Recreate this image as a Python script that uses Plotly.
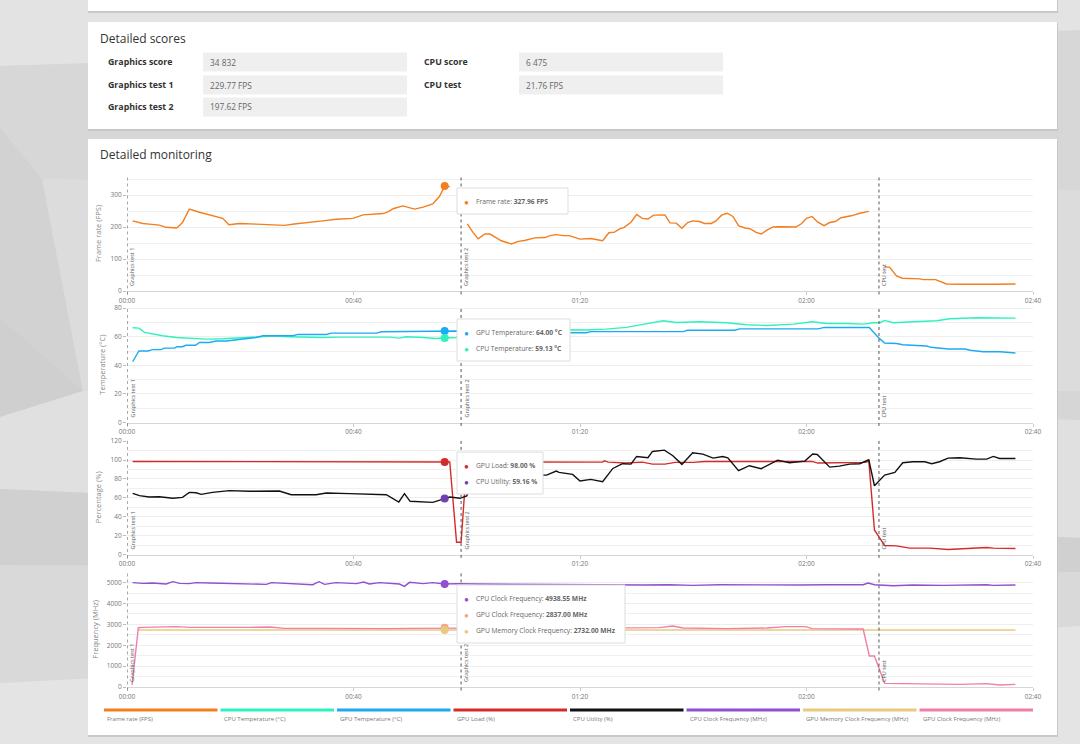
import plotly.graph_objects as go

W, H = 1080, 744
FONT = "Open Sans"

# ---- Detailed scores ----
score_rows_left = ["Graphics score", "Graphics test 1", "Graphics test 2"]
score_vals_left = ["34 832", "229.77 FPS", "197.62 FPS"]
score_rows_right = ["CPU score", "CPU test"]
score_vals_right = ["6 475", "21.76 FPS"]

# ---- Detailed monitoring (time in seconds) ----
test_names = ["Graphics test 1", "Graphics test 2", "CPU test"]
test_starts = [0, 59, 132.8]
time_ticks = [0, 40, 80, 120, 160]
hover_t = 56.1

fps_t = [1.0, 2.8, 3.9, 5.7, 6.9, 8.8, 9.8, 11.0, 12.8, 14.6, 16.3, 16.9, 18.0, 19.9, 22.8, 25.8, 27.8,
         29.9, 31.6, 34.6, 36.9, 39.9, 41.7, 43.4, 45.2, 46.1, 47.0, 48.7, 50.8, 52.3, 54.0, 55.2, 56.1,
         57.0, 58.5,
         60.1, 61.1, 62.0, 63.2, 64.1, 64.9, 66.1, 67.9, 69.1, 70.2, 72.0, 73.8, 74.7, 75.8, 77.0, 78.1,
         80.0, 81.9, 84.0, 85.1, 86.1, 87.0, 87.8, 89.0, 90.0, 91.0, 92.0, 93.0, 95.0, 95.9, 97.0, 98.0,
         99.0, 99.9, 101.1, 102.0, 103.2, 104.0, 105.0, 106.0, 107.0, 108.0, 109.1, 110.1, 111.1, 112.0,
         113.0, 114.1, 115.2, 118.1, 119.1, 120.0, 121.0, 122.0, 123.1, 124.1, 125.1, 126.1, 127.9, 129.4,
         131.0, 132.5,
         133.8, 134.7, 135.9, 136.9, 140.0, 140.6, 142.8, 144.7, 147.1, 150.0, 153.0, 156.9]
fps = [219, 211, 209, 206, 199, 197, 214, 256, 246, 238, 232, 227, 207, 211, 209, 207, 205,
       210, 214, 219, 224, 227, 238, 241, 242, 247, 257, 266, 256, 262, 272, 296, 327.96,
       326, None,
       210, 183, 163, 178, 178, 170, 157, 147, 155, 158, 166, 167, 173, 176, 173, 173,
       162, 164, 157, 182, 184, 194, 199, 215, 239, 227, 225, 237, 238, 213, 212, 196,
       214, 219, 217, 211, 211, 219, 237, 243, 233, 204, 197, 194, 183, 178,
       190, 200, 201, 200, 210, 227, 233, 215, 204, 214, 217, 229, 235, 243,
       249, None,
       76, 74, 47, 40, 38, 35.5, 35.5, 22, 21, 20, 21, 22]

gpu_temp_t = [1.0, 2.1, 3.7, 4.5, 6.0, 6.6, 8.4, 8.8, 9.8, 10.4, 12.1, 12.8, 14.6, 15.7, 17.5, 19.3,
              21.0, 22.8, 24.0, 29.3, 30.2, 35.2, 36.1, 44.0, 45.0, 54.6, 56.1, 58.2, 60.0, 76.3,
              81.1, 81.9, 98.2, 99.0, 107.3, 108.2, 122.0, 123.2, 131.1, 132.8, 133.8, 135.9, 137.0,
              141.2, 142.0, 145.0, 148.0, 148.9, 151.2, 154.2, 156.9]
gpu_temp = [42.5, 50, 50, 51, 51, 52, 52, 53, 53, 54, 54, 56, 56, 57, 57, 58,
            59, 59.5, 60.7, 60.7, 61.6, 61.6, 62.5, 62.5, 63.5, 63.5, 64.0, 64, 63, 62.8,
            62.8, 63.6, 63.6, 64.5, 64.5, 65.5, 65.5, 66.5, 66.5, 59, 55.6, 55.3, 54.4,
            53.5, 52.6, 51.4, 51.4, 50.5, 49.5, 49.5, 48.6]

cpu_temp_t = [1.0, 2.1, 3.1, 4.5, 6.3, 8.7, 11.0, 14.0, 16.9, 19.9, 22.8, 25.8, 28.7, 31.6, 34.6,
              37.5, 40.5, 43.4, 46.4, 48.1, 49.3, 52.3, 54.6, 56.1, 58.2, 60.0, 68.0, 76.3, 81.1,
              84.6, 88.2, 91.1, 94.7, 97.0, 101.2, 105.9, 109.4, 113.0, 117.7, 121.0, 123.6, 127.2,
              130.1, 131.8, 133.0, 133.8, 135.3, 138.8, 143.0, 145.3, 150.0, 156.9]
cpu_temp = [66.3, 66, 63, 61.8, 60.7, 59.5, 58.8, 58.3, 58.6, 59.3, 60, 60.4, 60, 59.5, 59.5,
            59.7, 59.7, 59.5, 59.7, 59, 60, 59.5, 58.8, 59.13, 59.5, 63.5, 64.5, 64.9, 64.7,
            65.3, 66.5, 68.6, 71.2, 70, 70.5, 69.8, 68.4, 67.9, 68.8, 70.5, 69.3, 69.3,
            68.8, 69.8, 69.8, 71.4, 69.8, 70.5, 71.2, 72.6, 73.3, 73]

gpu_load_t = [1.0, 46.5, 47.0, 56.1, 57.0, 58.2, 59.0, 60.0, 84.0, 84.3, 85.0, 88.0, 91.0, 92.8, 95.0,
              96.8, 100.0, 102.0, 121.0, 122.0, 130.5, 131.0, 132.0, 133.8, 135.9, 138.2, 141.8,
              145.0, 147.1, 151.8, 153.0, 156.9]
gpu_load = [98.5, 98.5, 98, 98.0, 98, 13, 13, 98, 97.8, 99.2, 97.8, 96.8, 97.8, 95.7, 95.7,
            97.5, 97.5, 98.5, 98.5, 96.8, 97.5, 99, 26, 9.5, 9.1, 6.7, 6.7,
            5.3, 6, 7.4, 6.7, 6.3]

cpu_util_t = [1.0, 2.2, 3.9, 5.7, 8.1, 9.8, 11.0, 12.2, 13.1, 15.1, 18.1, 21.6, 26.9, 29.0, 33.4,
              35.2, 39.3, 43.4, 45.8, 48.0, 49.0, 50.0, 54.0, 56.1, 57.0, 58.8, 60.0, 61.0, 63.0,
              66.0, 70.0, 73.0, 74.1, 75.8, 76.3, 78.7, 80.0, 81.9, 84.0, 85.8, 87.5, 89.0, 90.0,
              92.0, 92.8, 94.9, 96.4, 98.0, 99.9, 101.7, 103.5, 105.2, 106.1, 108.0, 109.9, 112.0,
              114.9, 117.0, 119.7, 121.1, 121.9, 124.1, 125.8, 127.6, 129.4, 131.0, 132.0, 133.8,
              135.6, 137.0, 138.8, 140.9, 142.1, 143.5, 145.0, 147.1, 150.0, 151.8, 153.0, 154.1,
              156.9]
cpu_util = [64.7, 62.3, 60.9, 61.2, 59.5, 60.5, 65.8, 65.4, 63.7, 65.8, 67.6, 66.9, 67.2, 63.3, 63.3,
            65.1, 64.4, 63.3, 63.3, 55.6, 64.4, 56.3, 55.2, 59.16, 60.9, 59.5, 62, 78, 84,
            86, 84, 84, 84, 88.3, 86.9, 84.8, 77.8, 79.5, 77.1, 91.1, 96.1, 95.7, 103.8,
            102.4, 109.1, 110.5, 104.5, 95.4, 107.7, 106.3, 102, 103.8, 102.4, 88.7, 94, 90.8,
            99.9, 97.1, 98.9, 106.3, 105.9, 92.5, 93.6, 95.7, 96.1, 100.3, 72.8, 84.1,
            86.9, 97.1, 98.2, 98.2, 96.1, 98.2, 102, 102.4, 101, 101, 103.8, 101.7,
            101.7]

cpu_clock_t = [1.0, 2.8, 4.5, 6.0, 6.9, 8.1, 9.3, 11.0, 12.2, 14.6, 16.9, 19.3, 22.8, 24.6, 25.5,
               27.5, 30.5, 32.8, 33.9, 34.9, 36.9, 39.3, 40.5, 41.8, 42.8, 44.6, 46.4, 48.1, 49.0,
               49.9, 52.3, 54.0, 56.1, 58.2, 62.0, 70.0, 76.3, 82.2, 86.4, 91.1, 95.8, 99.9, 104.6,
               109.3, 114.1, 118.8, 123.5, 127.6, 130.0, 130.9, 132.0, 135.3, 138.8, 144.1, 148.2,
               151.8, 153.0, 156.9]
cpu_clock = [5000, 4967, 4983, 4967, 4935, 5047, 4967, 4951, 5000, 4983, 4967, 4951, 4951, 4919, 5000,
             4967, 4951, 4903, 5047, 4919, 5000, 4951, 4951, 5031, 4935, 5000, 4967, 4935, 4823,
             5015, 4951, 5000, 4938.55, 4951, 4935, 4919, 4903, 4887, 4903, 4887, 4903, 4871, 4903,
             4887, 4903, 4887, 4903, 4887, 4903, 4983, 4903, 4855, 4887, 4871, 4887,
             4903, 4871, 4887]

gpu_clock_t = [0.9, 2.0, 2.8, 5.2, 8.8, 11.0, 16.9, 21.6, 25.2, 27.8, 34.6, 40.5, 43.4, 46.4, 49.9,
               56.1, 60.0, 76.3, 94.0, 96.4, 98.2, 105.9, 113.0, 116.4, 119.9, 121.0, 130.0, 131.1,
               132.0, 133.8, 137.0, 147.1, 151.8, 154.1, 156.9]
gpu_clock = [100, 2840, 2859, 2875, 2891, 2859, 2843, 2859, 2875, 2811, 2811, 2795, 2779, 2795, 2811,
             2837, 2820, 2811, 2843, 2923, 2827, 2795, 2827, 2891, 2891, 2795, 2779, 1485,
             1485, 176, 160, 128, 160, 96, 128]

gpu_mem_t = [2.0, 56.1, 156.9]
gpu_mem = [2732, 2732, 2732]

C_FPS = "#f27e1f"
C_CPUT = "#2ef2bd"
C_GPUT = "#1eaaf1"
C_LOAD = "#d52a2a"
C_UTIL = "#111111"
C_CPUC = "#9050d0"
C_MEM = "#e9c97e"
C_GPUC = "#ee80a8"

legend_items = [("Frame rate (FPS)", C_FPS), ("CPU Temperature (°C)", C_CPUT),
                ("GPU Temperature (°C)", C_GPUT), ("GPU Load (%)", C_LOAD),
                ("CPU Utility (%)", C_UTIL), ("CPU Clock Frequency (MHz)", C_CPUC),
                ("GPU Memory Clock Frequency (MHz)", C_MEM), ("GPU Clock Frequency (MHz)", C_GPUC)]

# panel layout in pixels (top / bottom of the plotting area)
panels = [
    dict(top=175.8, bottom=291, yr=[0, 360], dtick=100, minor=50, title="Frame rate (FPS)",
         lines=[(fps_t, fps, C_FPS)],
         tip=[("Frame rate", fps_t, fps, "FPS", C_FPS)], tip_box=(188, 111)),
    dict(top=306.7, bottom=422.5, yr=[0, 81], dtick=20, minor=10, title="Temperature (°C)",
         lines=[(cpu_temp_t, cpu_temp, C_CPUT), (gpu_temp_t, gpu_temp, C_GPUT)],
         tip=[("GPU Temperature", gpu_temp_t, gpu_temp, "°C", C_GPUT),
              ("CPU Temperature", cpu_temp_t, cpu_temp, "°C", C_CPUT)], tip_box=(319, 113)),
    dict(top=440.2, bottom=554.5, yr=[0, 121], dtick=20, minor=10, title="Percentage (%)",
         lines=[(gpu_load_t, gpu_load, C_LOAD), (cpu_util_t, cpu_util, C_UTIL)],
         tip=[("GPU Load", gpu_load_t, gpu_load, "%", C_LOAD),
              ("CPU Utility", cpu_util_t, cpu_util, "%", "#7040b0")], tip_box=(452, 86)),
    dict(top=571.8, bottom=687, yr=[0, 5520], dtick=1000, minor=500, title="Frequency (MHz)",
         lines=[(cpu_clock_t, cpu_clock, C_CPUC), (gpu_mem_t, gpu_mem, C_MEM),
                (gpu_clock_t, gpu_clock, C_GPUC)],
         tip=[("CPU Clock Frequency", cpu_clock_t, cpu_clock, "MHz", C_CPUC),
              ("GPU Clock Frequency", gpu_clock_t, gpu_clock, "MHz", "#f2a585"),
              ("GPU Memory Clock Frequency", gpu_mem_t, gpu_mem, "MHz", C_MEM)], tip_box=(585, 168)),
]


def px(x):
    return x / W


def py(y):
    return 1 - y / H


def mmss(s):
    return f"{int(s // 60):02d}:{int(s % 60):02d}"


shapes, annos = [], []


def rect(x0, y0, x1, y1, fill, line="rgba(0,0,0,0)", layer="below"):
    shapes.append(dict(type="rect", xref="paper", yref="paper", x0=px(x0), x1=px(x1),
                       y0=py(y1), y1=py(y0), fillcolor=fill, line=dict(color=line, width=1),
                       layer=layer))


def poly(points, fill):
    path = "M " + " L ".join(f"{px(a)},{py(b)}" for a, b in points) + " Z"
    shapes.append(dict(type="path", xref="paper", yref="paper", path=path, fillcolor=fill,
                       line=dict(width=0), layer="below"))


def label(x, y, s, size, color, anchor="left", **kw):
    annos.append(dict(x=px(x), y=py(y), xref="paper", yref="paper", text=s, showarrow=False,
                      xanchor=anchor, yanchor="middle", font=dict(family=FONT, size=size, color=color),
                      **kw))


# low-poly background
poly([(0, 0), (1080, 0), (1080, 40), (0, 66)], "#e3e3e3")
poly([(0, 66), (1080, 30), (1080, 190), (42, 179), (0, 128)], "#d7d7d7")
poly([(0, 128), (42, 179), (83, 391), (0, 318)], "#d2d2d2")
poly([(42, 179), (1080, 190), (1080, 391), (83, 391)], "#dcdcdc")
poly([(0, 318), (83, 391), (0, 417)], "#cfcfcf")
poly([(0, 417), (83, 391), (1080, 420), (1080, 538), (0, 489)], "#e0e0e0")
poly([(0, 489), (1080, 538), (1080, 572), (0, 565)], "#d0d0d0")
poly([(0, 565), (1080, 572), (1080, 626), (0, 683)], "#d9d9d9")
poly([(0, 683), (1080, 626), (1080, 744), (0, 744)], "#e4e4e4")

# cards
for top, bottom in [(-6, 11), (22, 129), (139, 735)]:
    rect(88, top + 1, 1058, bottom + 2, "#c8c8c8")
    rect(88, top, 1057, bottom, "#ffffff")

label(98, 39, "Detailed scores", 12, "#333333")
label(98, 154, "Detailed monitoring", 12, "#333333")

row_y = [62, 85, 107]
for i, (name, val) in enumerate(zip(score_rows_left, score_vals_left)):
    rect(203, row_y[i] - 9.5, 407, row_y[i] + 9.5, "#efefef")
    label(106, row_y[i], f"<b>{name}</b>", 8.8, "#333333")
    label(208, row_y[i], val, 8.3, "#666666")
for i, (name, val) in enumerate(zip(score_rows_right, score_vals_right)):
    rect(519, row_y[i] - 9.5, 723, row_y[i] + 9.5, "#efefef")
    label(422, row_y[i], f"<b>{name}</b>", 8.8, "#333333")
    label(524, row_y[i], val, 8.3, "#666666")

fig = go.Figure()
axes = {}
for i, p in enumerate(panels, start=1):
    sfx = "" if i == 1 else str(i)
    xr, yr = "x" + sfx, "y" + sfx
    for t, v, col in p["lines"]:
        fig.add_trace(go.Scatter(x=t, y=v, mode="lines", xaxis=xr, yaxis=yr,
                                 line=dict(color=col, width=1.4), connectgaps=False,
                                 hoverinfo="skip", showlegend=False))
    # hovered points
    for name, t, v, unit, col in p["tip"]:
        fig.add_trace(go.Scatter(x=[hover_t], y=[v[t.index(hover_t)]], mode="markers",
                                 xaxis=xr, yaxis=yr, marker=dict(color=col, size=8),
                                 hoverinfo="skip", showlegend=False))
    axes["xaxis" + sfx] = dict(
        domain=[px(127), px(1033)], anchor=yr, range=[0, 160], tickvals=time_ticks,
        ticktext=[mmss(s) for s in time_ticks], showgrid=False, zeroline=False, automargin=False,
        showline=True, linecolor="#d6d6d6", ticks="outside", ticklen=3, tickcolor="#cccccc",
        tickfont=dict(family=FONT, size=6.5, color="#777777"))
    axes["yaxis" + sfx] = dict(
        domain=[py(p["bottom"]), py(p["top"])], anchor=xr, range=p["yr"], dtick=p["dtick"],
        showgrid=True, gridcolor="#eeeeee", zeroline=False, showline=False, automargin=False,
        ticks="outside", ticklen=3, tickcolor="#bbbbbb",
        minor=dict(dtick=p["minor"], showgrid=True, gridcolor="#f0f0f0"),
        tickfont=dict(family=FONT, size=6.5, color="#777777"),
        title=dict(text=p["title"], standoff=7, font=dict(family=FONT, size=7.5, color="#888888")))
    # test markers
    for name, start in zip(test_names, test_starts):
        shapes.append(dict(type="line", xref=xr, yref=yr + " domain", x0=start, x1=start,
                           y0=-0.03, y1=1.0, line=dict(color="#555555", width=1, dash="dot")))
        annos.append(dict(x=start, y=0, xref=xr, yref=yr + " domain", text=name, textangle=-90,
                          showarrow=False, xanchor="center", yanchor="bottom", xshift=5, yshift=3,
                          font=dict(family=FONT, size=5.5, color="#555555")))
    # tooltip
    top, width = p["tip_box"]
    n = len(p["tip"])
    height = 26 if n == 1 else 10 + 16 * n
    shapes.append(dict(type="rect", xref="paper", yref="paper", x0=px(457), x1=px(457 + width),
                       y0=py(top + height), y1=py(top), fillcolor="#ffffff",
                       line=dict(color="#dddddd", width=1), layer="above"))
    for k, (name, t, v, unit, col) in enumerate(p["tip"]):
        yy = top + 13 + 16 * k
        label(466, yy, "●", 8, col, anchor="center")
        label(474, yy, f"{name}: <b>{v[t.index(hover_t)]:.2f} {unit}</b>", 6.7, "#666666")

# custom legend under the charts
slot = (1036 - 104) / len(legend_items)
for i, (name, col) in enumerate(legend_items):
    x0 = 104 + i * slot
    shapes.append(dict(type="rect", xref="paper", yref="paper", x0=px(x0), x1=px(x0 + slot - 3),
                       y0=py(711.5), y1=py(708.5), fillcolor=col, line=dict(width=0)))
    label(x0 + 1, 719, name, 6, "#777777")

fig.update_layout(
    width=W, height=H, margin=dict(l=0, r=0, t=0, b=0, autoexpand=False),
    paper_bgcolor="#d6d6d6", plot_bgcolor="#ffffff",
    font=dict(family=FONT), showlegend=False,
    shapes=shapes, annotations=annos, **axes)

# page body margin would shift the figure by 8px
fig.write_html("out.html", config={"displayModeBar": False},
               post_script="document.body.style.margin='0';document.body.style.overflow='hidden';")
